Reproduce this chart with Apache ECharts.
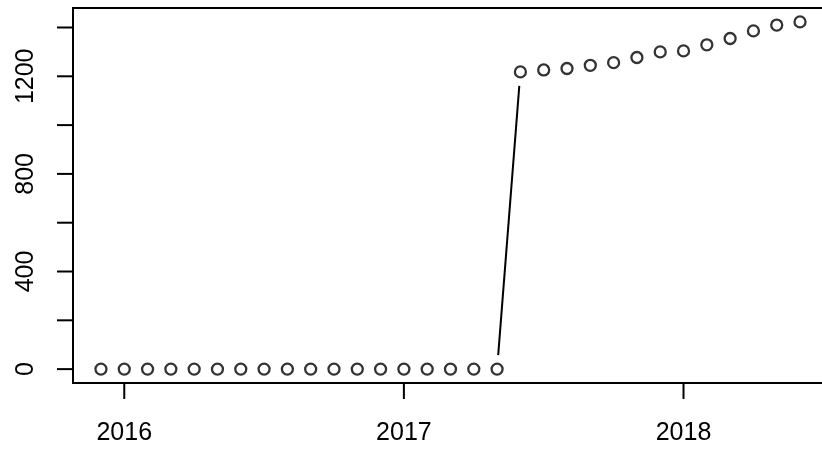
<!DOCTYPE html>
<html>
<head>
<meta charset="utf-8">
<script src="https://cdn.jsdelivr.net/npm/echarts@6/dist/echarts.min.js"></script>
<style>html,body{margin:0;padding:0;background:#fff}#c{width:822px;height:451px}</style>
</head>
<body>
<div id="c"></div>
<script>
// monthly observations, Dec 2015 .. Jun 2018
var months = ['2015-12','2016-01','2016-02','2016-03','2016-04','2016-05','2016-06','2016-07','2016-08','2016-09','2016-10','2016-11','2016-12',
  '2017-01','2017-02','2017-03','2017-04','2017-05','2017-06','2017-07','2017-08','2017-09','2017-10','2017-11','2017-12',
  '2018-01','2018-02','2018-03','2018-04','2018-05','2018-06'];
var values = [0,0,0,0,0,0,0,0,0,0,0,0,0,0,0,0,0,0,
  1218,1226,1232,1245,1256,1277,1300,1304,1329,1355,1386,1410,1423];
var xTicks = [2016, 2017, 2018];
var yTicks = [0, 200, 400, 600, 800, 1000, 1200, 1400];
var yLabels = [0, 400, 800, 1200];

var X_MIN = 2015.8167, X_MAX = 2018.5167, Y_MIN = -56.9, Y_MAX = 1479.9;
var FONT = '"Liberation Sans", Arial, Helvetica, sans-serif';
var FS = 25;

function toYear(m) { var p = m.split('-'); return +p[0] + (+p[1] - 1) / 12; }
var points = months.map(function (m, i) { return [toYear(m), values[i]]; });
var segments = [];
for (var i = 1; i < points.length; i++) {
  segments.push([points[i-1][0], points[i-1][1], points[i][0], points[i][1]]);
}

var chart = echarts.init(document.getElementById('c'), null, {renderer: 'canvas'});
var GAP = 14;
chart.setOption({
  animation: false,
  backgroundColor: '#fff',
  grid: {left: 73, top: 8, width: 755, height: 375, outerBoundsMode: 'none', containLabel: false,
    show: true, borderColor: '#000', borderWidth: 2, backgroundColor: 'transparent'},
  xAxis: {type: 'value', min: X_MIN, max: X_MAX, axisLine: {show: false}, axisTick: {show: false}, axisLabel: {show: false}, splitLine: {show: false}},
  yAxis: {type: 'value', min: Y_MIN, max: Y_MAX, axisLine: {show: false}, axisTick: {show: false}, axisLabel: {show: false}, splitLine: {show: false}},
  series: [
    {
      type: 'custom', clip: false, silent: true,
      encode: {x: [0, 2], y: [1, 3]},
      data: segments,
      renderItem: function (params, api) {
        var a = api.coord([api.value(0), api.value(1)]);
        var b = api.coord([api.value(2), api.value(3)]);
        var dx = b[0] - a[0], dy = b[1] - a[1];
        var len = Math.sqrt(dx * dx + dy * dy);
        if (len <= 2 * GAP + 2) return null;
        var ux = dx / len, uy = dy / len;
        return {type: 'line', shape: {x1: a[0] + ux * GAP, y1: a[1] + uy * GAP, x2: b[0] - ux * GAP, y2: b[1] - uy * GAP},
          style: {stroke: '#000', lineWidth: 2}};
      }
    },
    {
      type: 'scatter', data: points, symbol: 'circle', symbolSize: 11, silent: true,
      itemStyle: {color: 'rgba(0,0,0,0)', borderColor: '#000', borderWidth: 2.3}
    },
    {
      type: 'custom', clip: false, silent: true,
      encode: {x: 0, y: 1},
      data: xTicks.map(function (v) { return [v, Y_MIN]; }),
      renderItem: function (params, api) {
        var p = api.coord([api.value(0), Y_MIN]);
        return {type: 'group', children: [
          {type: 'line', shape: {x1: p[0], y1: p[1], x2: p[0], y2: p[1] + 16}, style: {stroke: '#000', lineWidth: 2}},
          {type: 'text', x: p[0], y: p[1] + 50, style: {text: String(api.value(0)), fontSize: FS, fontFamily: FONT, fill: '#000', align: 'center', verticalAlign: 'middle'}}
        ]};
      }
    },
    {
      type: 'custom', clip: false, silent: true,
      encode: {x: 0, y: 1},
      data: yTicks.map(function (v) { return [X_MIN, v]; }),
      renderItem: function (params, api) {
        var v = api.value(1);
        var p = api.coord([X_MIN, v]);
        var children = [{type: 'line', shape: {x1: p[0] - 16, y1: p[1], x2: p[0], y2: p[1]}, style: {stroke: '#000', lineWidth: 2}}];
        if (yLabels.indexOf(v) >= 0) {
          children.push({type: 'text', x: p[0] - 47, y: p[1], rotation: Math.PI / 2,
            style: {text: String(v), fontSize: FS, fontFamily: FONT, fill: '#000', align: 'center', verticalAlign: 'middle'}});
        }
        return {type: 'group', children: children};
      }
    }
  ]
});
</script>
</body>
</html>
